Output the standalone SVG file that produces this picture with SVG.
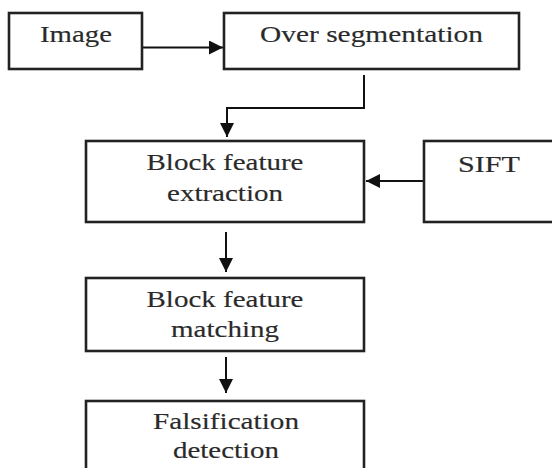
<svg xmlns="http://www.w3.org/2000/svg" width="552" height="468" viewBox="0 0 552 468">
<style>
.box{fill:#fff;stroke:#222;stroke-width:2.6}
.t{font-family:"Liberation Serif","Times New Roman",serif;font-size:23px;fill:#2a2a2a;stroke:#2a2a2a;stroke-width:0.15;text-anchor:middle}
.c{fill:none;stroke:#111;stroke-width:2}
</style>
<defs>
<marker id="ah" viewBox="0 0 14 14" refX="14" refY="7" markerWidth="14" markerHeight="14" markerUnits="userSpaceOnUse" orient="auto">
<path d="M0,0 L14,7 L0,14 z" fill="#111"/>
</marker>
</defs>
<g id="connectors">
<path class="c" d="M142,47.5 L223,47.5" marker-end="url(#ah)"/>
<path class="c" d="M364,75 L364,108 L227,108 L227,137" marker-end="url(#ah)"/>
<path class="c" d="M424,181 L366,181" marker-end="url(#ah)"/>
<path class="c" d="M226,232 L226,272" marker-end="url(#ah)"/>
<path class="c" d="M226,357 L226,393" marker-end="url(#ah)"/>
</g>
<g id="image">
<rect class="box" x="9" y="13" width="133" height="56"/>
<text class="t" x="76" y="42" textLength="72" lengthAdjust="spacingAndGlyphs">Image</text>
</g>
<g id="over-segmentation">
<rect class="box" x="224" y="13" width="295" height="56"/>
<text class="t" x="371.5" y="42" textLength="223" lengthAdjust="spacingAndGlyphs">Over segmentation</text>
</g>
<g id="block-feature-extraction">
<rect class="box" x="86" y="141" width="278" height="81"/>
<text class="t" x="225" y="170" textLength="157" lengthAdjust="spacingAndGlyphs">Block feature</text>
<text class="t" x="225" y="201" textLength="116" lengthAdjust="spacingAndGlyphs">extraction</text>
</g>
<g id="sift">
<rect class="box" x="424" y="141" width="140" height="81"/>
<text class="t" x="489" y="172" textLength="62" lengthAdjust="spacingAndGlyphs">SIFT</text>
</g>
<g id="block-feature-matching">
<rect class="box" x="86" y="278" width="278" height="73"/>
<text class="t" x="225" y="307" textLength="157" lengthAdjust="spacingAndGlyphs">Block feature</text>
<text class="t" x="225" y="337" textLength="108" lengthAdjust="spacingAndGlyphs">matching</text>
</g>
<g id="falsification-detection">
<rect class="box" x="86" y="401" width="278" height="80"/>
<text class="t" x="226" y="429" textLength="146" lengthAdjust="spacingAndGlyphs">Falsification</text>
<text class="t" x="226" y="458" textLength="106" lengthAdjust="spacingAndGlyphs">detection</text>
</g>
</svg>
